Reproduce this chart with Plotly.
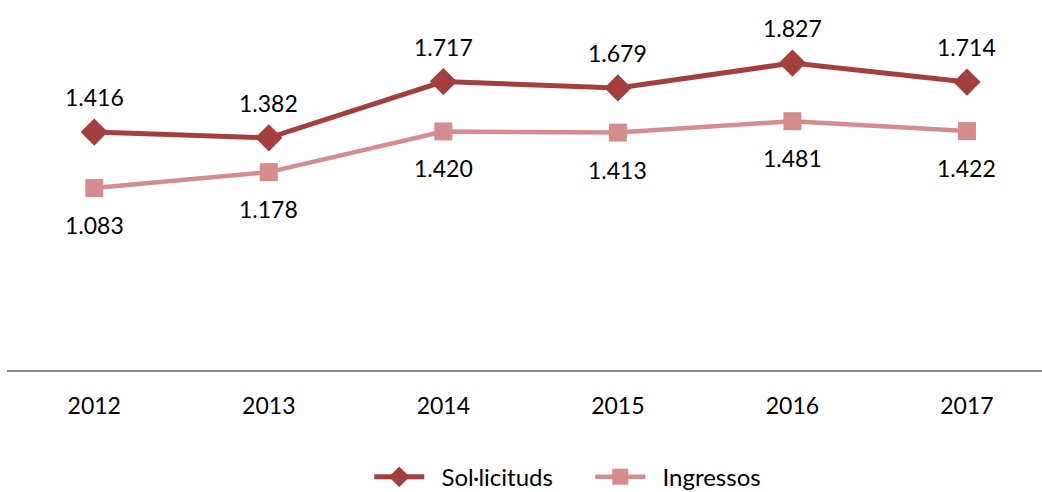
import plotly.graph_objects as go

years = ["2012", "2013", "2014", "2015", "2016", "2017"]
solicituds = [1416, 1382, 1717, 1679, 1827, 1714]
ingressos = [1083, 1178, 1420, 1413, 1481, 1422]

FONT = "Lato"
DARK = "#A53F3E"
LIGHT = "#D48C8C"
PAD = "\u00a0\u00a0"  # extra room between legend symbol and its text


def fmt(v):
    return f"{v:,}".replace(",", ".")


fig = go.Figure()
fig.add_trace(go.Scatter(
    x=years, y=solicituds, name=PAD + "Sol·licituds", mode="lines+markers",
    line=dict(color=DARK, width=5),
    marker=dict(symbol="diamond", size=21, color=DARK),
))
fig.add_trace(go.Scatter(
    x=years, y=ingressos, name=PAD + "Ingressos", mode="lines+markers",
    line=dict(color=LIGHT, width=4.5),
    marker=dict(symbol="square", size=18, color=LIGHT),
))

# value labels: above the requests line, below the admissions line
annotations = []
for i, v in enumerate(solicituds):
    annotations.append(dict(x=i, y=v, xref="x", yref="y", text=fmt(v), showarrow=False,
                            yshift=35, font=dict(size=23, color="#000000", family=FONT)))
for i, v in enumerate(ingressos):
    annotations.append(dict(x=i, y=v, xref="x", yref="y", text=fmt(v), showarrow=False,
                            yshift=-37, font=dict(size=23, color="#000000", family=FONT)))

fig.update_layout(
    width=1042, height=492,
    margin=dict(l=7, r=0, t=34, b=122, autoexpand=False),
    paper_bgcolor="white", plot_bgcolor="white",
    font=dict(family=FONT, size=23, color="#000000"),
    separators=",.",
    annotations=annotations,
    showlegend=True,
    legend=dict(orientation="h", x=0.35, xanchor="left",
                yref="container", y=0.03, yanchor="middle",
                font=dict(size=24, family=FONT), itemwidth=50,
                entrywidth=156, traceorder="normal"),
    xaxis=dict(type="category", range=[-0.5, 5.43], showgrid=False, zeroline=False,
               showline=True, linecolor="#898989", linewidth=2, ticks="",
               tickfont=dict(size=23, family=FONT), ticklabelstandoff=14),
    yaxis=dict(range=[0, 2000], showticklabels=False, showline=False,
               showgrid=False, zeroline=False, ticks=""),
)

fig.write_html("out.html")
